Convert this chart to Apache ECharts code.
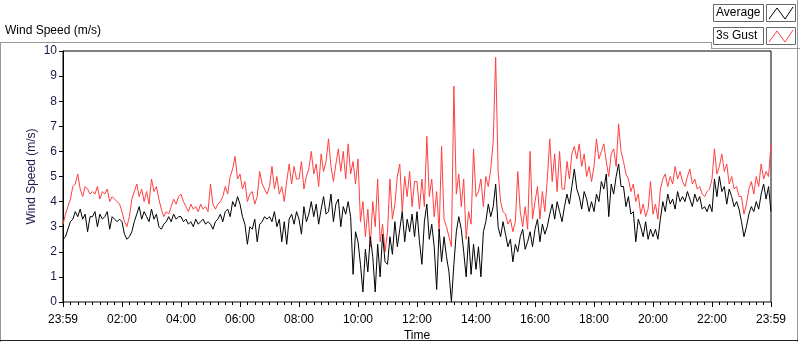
<!DOCTYPE html>
<html>
<head>
<meta charset="utf-8">
<script src="https://cdn.jsdelivr.net/npm/echarts@6/dist/echarts.min.js"></script>
<style>
html, body { margin: 0; padding: 0; background: #fff; }
#main { width: 800px; height: 342px; }
</style>
</head>
<body>
<div id="main"></div>
<script>
// one sample every 5 minutes, starting at 23:59 (one row = one hour)
const stepMin = 5;
const tickLabels = ['23:59', '02:00', '04:00', '06:00', '08:00', '10:00', '12:00',
    '14:00', '16:00', '18:00', '20:00', '22:00', '23:59'];

const average = [
    2.5, 2.6, 2.9, 3.2, 3.3, 3.6, 3.4, 3.7, 3.3, 3.5, 2.8, 3.4,
    3.4, 3.6, 3.0, 3.5, 3.3, 3.4, 3.6, 2.9, 3.4, 3.3, 3.2, 3.3,
    3.2, 2.7, 2.5, 2.6, 2.8, 3.2, 3.5, 3.8, 3.3, 3.6, 3.4, 3.2,
    3.7, 3.3, 3.5, 3.0, 2.9, 3.1, 3.2, 3.4, 3.2, 3.5, 3.3, 3.4,
    3.4, 3.2, 3.3, 3.1, 3.2, 3.0, 3.3, 3.1, 3.2, 3.3, 3.1, 3.2,
    3.1, 2.9, 3.2, 3.3, 3.5, 3.2, 3.6, 3.7, 3.4, 4.0, 3.8, 4.2,
    3.9, 3.4, 3.1, 2.3, 3.0, 2.9, 3.3, 2.4, 3.1, 3.2, 3.4, 3.3,
    3.4, 3.2, 3.6, 3.0, 3.3, 2.4, 3.2, 2.3, 3.3, 3.5, 3.1, 3.6,
    3.3, 2.7, 3.8, 3.2, 3.5, 4.0, 3.4, 3.9, 3.1, 3.7, 4.2, 3.5,
    3.6, 4.3, 3.2, 3.9, 4.1, 3.0, 3.8, 3.5, 4.0, 3.4, 1.1, 2.8,
    2.4, 1.5, 0.4, 2.1, 1.2, 2.6, 1.8, 0.4, 2.3, 1.0, 2.7, 1.6,
    1.5, 2.6, 1.9, 3.2, 2.2, 2.9, 3.6, 2.4, 3.3, 2.8, 3.5, 2.6,
    3.6, 2.4, 1.5, 3.2, 3.9, 2.5, 3.1, 2.2, 0.5, 2.9, 1.6, 2.6,
    1.8, 1.2, 0.0, 1.5, 2.8, 3.4, 2.9, 2.0, 1.0, 2.6, 1.1, 2.3,
    1.3, 2.2, 1.0, 2.8, 3.2, 3.9, 3.4, 3.8, 4.7, 3.0, 2.6, 3.2,
    2.7, 2.2, 2.5, 1.6, 2.3, 2.0, 2.6, 2.9, 2.1, 2.4, 2.8, 2.2,
    2.9, 3.3, 2.4, 3.1, 2.7, 3.0, 3.5, 3.9, 3.3, 4.0, 3.6, 3.2,
    3.8, 4.3, 3.9, 4.6, 5.3, 4.5, 4.2, 3.7, 4.4, 4.1, 3.6, 4.0,
    3.6, 4.3, 4.0, 4.8, 4.5, 5.1, 3.4, 4.7, 4.3, 5.0, 5.5, 4.6,
    4.6, 3.8, 4.2, 3.5, 3.6, 2.4, 3.3, 3.0, 2.6, 3.2, 2.5, 2.9,
    2.6, 2.9, 2.5, 3.3, 4.0, 3.6, 4.3, 3.9, 4.1, 3.7, 4.4, 4.0,
    4.2, 4.0, 4.4, 4.1, 3.8, 4.3, 4.0, 4.2, 3.7, 3.8, 3.6, 3.9,
    3.6, 4.9, 4.2, 5.0, 4.4, 4.6, 3.9, 4.5, 4.2, 3.8, 4.0, 3.7,
    3.2, 2.6, 3.0, 3.5, 3.8, 3.6, 4.0, 3.7, 4.3, 4.7, 4.1, 4.6,
    3.6
];

const gust = [
    3.1, 3.5, 3.8, 4.1, 4.6, 4.7, 5.1, 4.5, 4.2, 4.6, 4.5, 4.3,
    4.4, 4.3, 4.6, 4.1, 4.4, 4.3, 4.5, 4.0, 4.2, 4.1, 4.0, 3.9,
    3.6, 3.2, 3.0, 3.4, 4.1, 4.4, 4.7, 4.2, 4.5, 4.0, 4.4, 3.9,
    4.9, 4.4, 4.6, 4.1, 3.7, 3.4, 3.6, 3.5, 3.8, 4.1, 3.9, 4.2,
    4.3, 4.0, 3.8, 3.6, 3.9, 3.7, 3.8, 3.6, 3.9, 3.7, 3.8, 3.6,
    4.7, 3.9, 3.7, 3.9, 4.0, 4.2, 4.6, 4.3, 5.0, 5.3, 5.8, 4.9,
    5.1, 4.5, 4.8, 4.0, 4.3, 4.4, 3.9, 4.2, 5.2, 4.7, 4.5, 4.3,
    4.6, 5.4, 4.5, 5.0, 4.3, 4.6, 4.0, 4.8, 5.5, 4.7, 5.4, 4.9,
    4.9, 5.6, 4.5, 5.0, 5.3, 6.0, 5.1, 5.5, 4.6, 5.9, 5.2, 5.6,
    6.5, 5.4, 4.8, 5.5, 6.1, 5.2, 6.0, 4.9, 6.3, 5.1, 5.6, 4.7,
    5.7, 3.2, 4.0, 2.6, 3.7, 2.2, 4.0, 3.0, 4.9, 2.4, 3.1, 2.0,
    2.8, 4.9, 3.3, 3.9, 5.0, 5.5, 3.6, 5.0, 4.2, 5.2, 3.8, 4.8,
    4.8, 3.7, 4.9, 3.8, 6.6, 4.2, 4.9, 3.4, 4.4, 2.8, 6.2, 3.3,
    3.0, 2.6, 2.2, 8.6, 4.3, 5.1, 3.8, 4.9, 2.5, 3.6, 3.1, 6.1,
    4.2, 4.4, 4.9, 3.8, 5.0, 4.6, 5.3, 6.4, 9.75, 5.2, 4.0, 3.6,
    3.5, 3.1, 3.3, 2.8, 3.2, 5.2, 3.6, 3.0, 3.8, 2.9, 6.0, 3.3,
    4.0, 4.6, 3.3, 4.4, 3.6, 4.9, 6.5, 4.8, 5.9, 4.4, 6.0, 4.5,
    4.5, 5.6, 4.9, 5.9, 6.2, 5.7, 6.3, 5.4, 5.9, 5.0, 5.4, 4.8,
    5.4, 6.5, 5.7, 6.0, 6.3, 5.6, 5.0, 5.9, 6.1, 5.4, 7.1, 6.0,
    5.6, 5.1, 4.9, 4.4, 4.7, 4.0, 4.3, 3.5, 3.9, 3.4, 3.7, 4.8,
    3.5, 3.9, 3.3, 4.5, 4.9, 5.1, 4.6, 5.0, 4.7, 5.4, 4.9, 5.2,
    4.8, 4.6, 5.0, 5.3, 4.7, 4.9, 4.5, 4.6, 4.3, 4.2, 4.4, 4.5,
    4.9, 6.1, 5.1, 5.4, 5.9, 5.2, 5.5, 4.7, 5.0, 4.5, 4.6, 4.2,
    4.2, 3.5, 3.9, 4.5, 4.8, 4.3, 5.0, 4.6, 5.5, 4.9, 5.2, 5.0,
    6.3
];

const font = '"Liberation Sans", Arial, sans-serif';

const toPoints = (arr) => arr.map((v, i) => [i * stepMin, v]);

const frame = '#999';

const legendRow = (top, name, color) => [
    {
        type: 'rect', shape: {x: 713.5, y: top + 0.5, width: 50, height: 17},
        style: {fill: '#fff', stroke: '#666', lineWidth: 1}
    },
    {
        type: 'text', x: 716, y: top + 9,
        style: {text: name, font: '12px ' + font, fill: '#000', verticalAlign: 'middle'}
    },
    {
        type: 'rect', shape: {x: 766.5, y: top + 0.5, width: 29, height: 17},
        style: {fill: '#fff', stroke: '#666', lineWidth: 1}
    },
    {
        type: 'polyline',
        shape: {points: [[769, top + 15], [777, top + 4], [785, top + 15], [793, top + 3]]},
        style: {stroke: color, lineWidth: 1, fill: null}
    }
];

const option = {
    animation: false,
    backgroundColor: '#fff',
    textStyle: {fontFamily: font},
    grid: {
        left: 63, right: 29, top: 51, bottom: 40,
        containLabel: false,
        outerBoundsMode: 'none',
        show: true, borderColor: '#000', borderWidth: 1
    },
    xAxis: {
        type: 'value',
        min: 0,
        max: 1440,
        interval: 120,
        name: 'Time',
        nameLocation: 'middle',
        nameGap: 28,
        nameMoveOverlap: false,
        nameTextStyle: {fontSize: 12, color: '#000'},
        axisLine: {lineStyle: {color: '#888'}},
        axisTick: {show: true, length: 5, lineStyle: {color: '#000'}},
        minorTick: {show: true, splitNumber: 8, length: 3, lineStyle: {color: '#000'}},
        splitLine: {show: false},
        axisLabel: {
            fontSize: 12, color: '#000', margin: 12,
            formatter: (v) => tickLabels[Math.round(v / 120)]
        }
    },
    yAxis: {
        type: 'value',
        min: 0,
        max: 10,
        interval: 1,
        name: 'Wind Speed (m/s)',
        nameLocation: 'middle',
        nameGap: 25,
        nameMoveOverlap: false,
        nameTextStyle: {fontSize: 12, color: '#1a1a4a'},
        axisLine: {show: true, lineStyle: {color: '#000'}},
        axisTick: {show: true, length: 4, lineStyle: {color: '#000'}},
        splitLine: {show: false},
        axisLabel: {fontSize: 12, color: '#1a1a4a', margin: 6}
    },
    series: [
        {
            name: '3s Gust', type: 'line', data: toPoints(gust),
            showSymbol: false, lineStyle: {color: '#ff4040', width: 1}
        },
        {
            name: 'Average', type: 'line', data: toPoints(average),
            showSymbol: false, lineStyle: {color: '#000', width: 1}
        }
    ],
    graphic: [
        {
            type: 'text', x: 5, y: 31,
            style: {text: 'Wind Speed (m/s)', font: '12px ' + font, fill: '#000', verticalAlign: 'middle'}
        },
        {type: 'line', shape: {x1: 0, y1: 42.5, x2: 712, y2: 42.5}, style: {stroke: frame}},
        {type: 'line', shape: {x1: 711.5, y1: 42, x2: 711.5, y2: 49}, style: {stroke: frame}},
        {type: 'line', shape: {x1: 711, y1: 48.5, x2: 800, y2: 48.5}, style: {stroke: frame}},
        {type: 'line', shape: {x1: 797.5, y1: 0, x2: 797.5, y2: 342}, style: {stroke: frame}},
        {type: 'line', shape: {x1: 0.5, y1: 42, x2: 0.5, y2: 342}, style: {stroke: frame}},
        {type: 'line', shape: {x1: 0, y1: 340.5, x2: 798, y2: 340.5}, style: {stroke: '#222'}},
        ...legendRow(4, 'Average', '#000'),
        ...legendRow(27, '3s Gust', '#ff4040')
    ]
};

const chart = echarts.init(document.getElementById('main'), null, {renderer: 'canvas'});
chart.setOption(option);
</script>
</body>
</html>
